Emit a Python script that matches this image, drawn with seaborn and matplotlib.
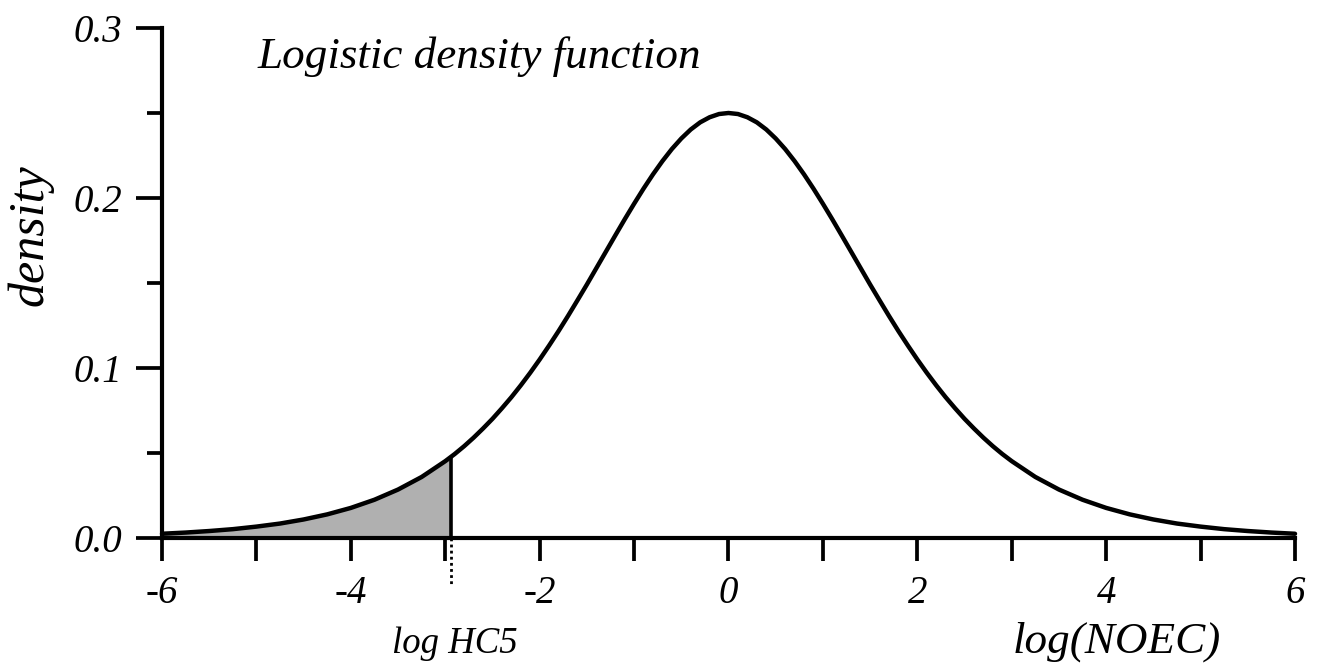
import numpy as np
import pandas as pd
import matplotlib
matplotlib.use("Agg")
import matplotlib.pyplot as plt
import seaborn as sns

# ---- data (logistic density, symmetric about 0) ----
x_right = [0.0, 0.1, 0.2, 0.3, 0.4, 0.5, 0.6, 0.7, 0.8, 0.9,
           1.0, 1.1, 1.2, 1.3, 1.4, 1.5, 1.6, 1.7, 1.8, 1.9,
           2.0, 2.1, 2.2, 2.3, 2.4, 2.5, 2.6, 2.7, 2.8, 2.9,
           3.0, 3.25, 3.5, 3.75, 4.0, 4.25, 4.5, 4.75, 5.0, 5.25,
           5.5, 5.75, 6.0]
density_right = [0.2500, 0.2494, 0.2475, 0.2445, 0.2403, 0.2350, 0.2288, 0.2217, 0.2139, 0.2055,
                 0.1966, 0.1874, 0.1779, 0.1683, 0.1587, 0.1491, 0.1398, 0.1306, 0.1217, 0.1132,
                 0.1050, 0.0972, 0.0898, 0.0828, 0.0763, 0.0701, 0.0644, 0.0590, 0.0540, 0.0494,
                 0.0452, 0.0359, 0.0285, 0.0225, 0.0177, 0.0139, 0.0109, 0.0085, 0.0067, 0.0052,
                 0.0041, 0.0032, 0.0025]
hc5_x = -2.944
hc5_density = 0.0475
x_ticks = [-6, -4, -2, 0, 2, 4, 6]
x_tick_labels = ["-6", "-4", "-2", "0", "2", "4", "6"]
y_ticks = [0.0, 0.1, 0.2, 0.3]
y_tick_labels = ["0.0", "0.1", "0.2", "0.3"]

# mirror the right half to obtain the full symmetric curve
x_all = [-v for v in x_right[:0:-1]] + x_right
d_all = density_right[:0:-1] + density_right
df = pd.DataFrame({"x": x_all, "density": d_all})

sns.set_theme(style="ticks")
plt.rcParams["font.family"] = ["Liberation Serif", "DejaVu Serif"]
plt.rcParams["font.style"] = "italic"
plt.rcParams["axes.unicode_minus"] = False
plt.rcParams["text.color"] = "black"

fig = plt.figure(figsize=(13.2, 6.72), dpi=100)
ax = fig.add_axes([162 / 1320, 1 - 538 / 672, (1295 - 162) / 1320, (538 - 28) / 672])

# shaded tail below HC5
tail = df[df["x"] <= hc5_x]
tx = list(tail["x"]) + [hc5_x]
ty = list(tail["density"]) + [hc5_density]
ax.fill_between(tx, 0, ty, facecolor="#b0b0b0", edgecolor="none", zorder=1)
ax.plot([hc5_x, hc5_x], [0, hc5_density], color="black", lw=2.6, zorder=2,
        solid_capstyle="butt")

sns.lineplot(data=df, x="x", y="density", color="black", lw=3.2, ax=ax,
             zorder=3, clip_on=False)

ax.set_xlim(-6, 6)
ax.set_ylim(0, 0.3)
ax.set_xticks(x_ticks)
ax.set_xticklabels(x_tick_labels)
ax.set_xticks([-5, -3, -1, 1, 3, 5], minor=True)
ax.set_yticks(y_ticks)
ax.set_yticklabels(y_tick_labels)
ax.set_yticks([0.05, 0.15, 0.25], minor=True)

for side in ["top", "right"]:
    ax.spines[side].set_visible(False)
for side in ["left", "bottom"]:
    ax.spines[side].set_linewidth(3.0)
    ax.spines[side].set_color("black")

ax.tick_params(axis="x", which="both", direction="out", length=16.5, width=2.7,
               color="black", labelsize=28, pad=10, labelcolor="black")
ax.tick_params(axis="y", which="major", direction="out", length=18.5, width=2.7,
               color="black", labelsize=28, pad=10, labelcolor="black")
ax.tick_params(axis="y", which="minor", direction="out", length=10.8, width=2.7,
               color="black")
for lab in ax.get_xticklabels() + ax.get_yticklabels():
    lab.set_fontstyle("italic")

ax.set_xlabel("")
ax.set_ylabel("")

# dotted marker below the axis at HC5
ax.plot([hc5_x, hc5_x], [0, -0.028], color="black", lw=2.0, ls=(0, (1, 1.2)),
        clip_on=False, zorder=4)

fig.text(258 / 1320, 1 - 68 / 672, "Logistic density function", fontsize=32.5,
         style="italic", ha="left", va="baseline", color="black")
fig.text(30 / 1320, 1 - 235 / 672, "density", fontsize=36, style="italic",
         rotation=90, ha="center", va="center", color="black")
fig.text(1013 / 1320, 1 - 653 / 672, "log(NOEC)", fontsize=32.5, style="italic",
         ha="left", va="baseline", color="black")
fig.text(455 / 1320, 1 - 653 / 672, "log HC5", fontsize=26.5, style="italic",
         ha="center", va="baseline", color="black")

fig.savefig("out.png", dpi=100, facecolor="white")
